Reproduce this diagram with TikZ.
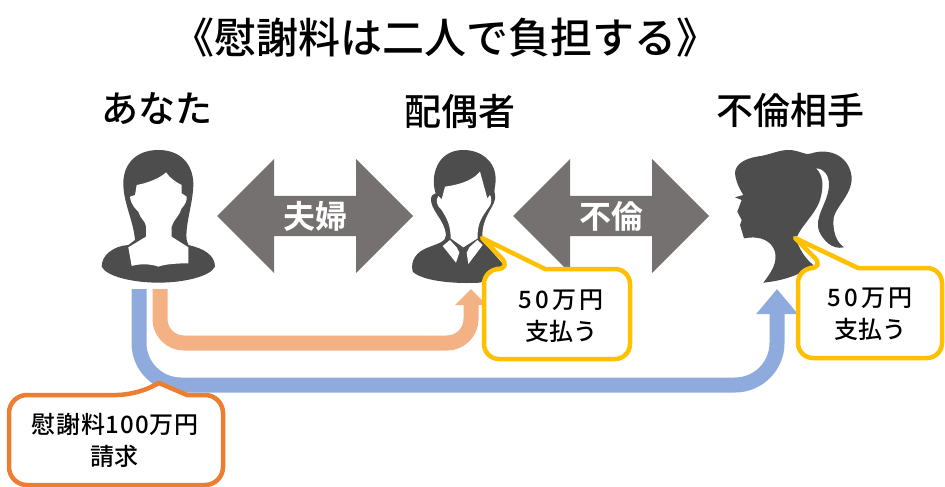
\documentclass[tikz,border=0pt]{standalone}
\usepackage{fontspec}
\usetikzlibrary{arrows.meta,shapes.arrows}
\newfontfamily\jpfont{Noto Sans CJK JP}[BoldFont={Noto Sans CJK JP Bold}]
\newfontfamily\jpmedium{Noto Sans CJK JP Medium}
\definecolor{silhouette}{HTML}{4D4D4D}
\definecolor{arrowgray}{HTML}{767171}
\definecolor{peach}{HTML}{F4B183}
\definecolor{paleblue}{HTML}{8FAADC}
\definecolor{gold}{HTML}{FFC000}
\definecolor{deeporange}{HTML}{ED7D31}
\def\tsize#1{\fontsize{#1}{#1}\selectfont}
\def\spaced#1#2{{\addfontfeature{LetterSpace=#1}#2}}
\tikzset{
  every node/.style={font=\jpfont, inner sep=0pt, anchor=center},
  titletext/.style={font=\jpmedium\tsize{42}},
  persontext/.style={font=\jpmedium\tsize{37}},
  bubbletext/.style={font=\jpmedium\tsize{24}, align=center, text=black},
  relarrow/.style={double arrow, fill=arrowgray, minimum height=196pt, minimum width=114pt,
    double arrow head extend=28pt, text=white, font=\jpfont\bfseries\tsize{32}},
  figure/.style={fill=silhouette, draw=none},
  hole/.style={fill=white, draw=none},
  paybubble/.style={draw=gold, fill=white, line width=4.5pt, line join=round},
  askbubble/.style={draw=deeporange, fill=white, line width=4.5pt, line join=round}
}
\begin{document}
\begin{tikzpicture}[x=1pt, y=-1pt]
      \useasboundingbox (0,0) rectangle (945,487);
      \node[titletext] (title) at (445, 38) {《慰謝料は二人で負担する》};
      \node[persontext] (you) at (157, 109) {あなた};
      \node[persontext] (spouse) at (460, 111) {配偶者};
      \node[persontext] (lover) at (790, 110) {不倫相手};

      % woman
      \begin{scope}[shift={(90,140)}, scale=1/3]
        \fill[figure] (205,30) .. controls (270,30) and (308,70) .. (310,130)
          .. controls (310,190) and (285,250) .. (290,300) -- (295,315)
          .. controls (340,325) and (375,345) .. (375,380)
          .. controls (360,410) and (280,428) .. (205,428)
          .. controls (130,428) and (50,410) .. (35,380)
          .. controls (35,345) and (70,318) .. (115,315) -- (135,300)
          .. controls (130,240) and (100,190) .. (100,130)
          .. controls (100,70) and (140,30) .. (205,30) -- cycle;
        \fill[hole] (228,97) .. controls (210,115) and (170,130) .. (140,135)
          -- (135,165) -- (120,170) .. controls (122,195) and (140,210) .. (145,215)
          .. controls (150,235) and (168,245) .. (168,260) -- (168,290) -- (115,322) -- (125,378)
          .. controls (150,370) and (185,372) .. (205,380)
          .. controls (225,372) and (265,370) .. (295,370) -- (295,322) -- (245,290) -- (245,260)
          .. controls (250,240) and (270,225) .. (275,205)
          .. controls (285,195) and (292,180) .. (290,170) -- (275,160) -- (275,135)
          .. controls (260,128) and (240,115) .. (228,97) -- cycle;
      \end{scope}

      % man
      \begin{scope}[shift={(400,140)}, scale=1/3]
        \fill[figure] (190,30) .. controls (240,30) and (285,60) .. (287,115)
          .. controls (288,135) and (280,150) .. (285,165)
          .. controls (292,195) and (245,225) .. (247,290) -- (250,305)
          -- (320,385) -- (240,428) .. controls (170,432) and (70,425) .. (38,395)
          .. controls (30,360) and (50,335) .. (85,322)
          .. controls (110,312) and (140,305) .. (138,285)
          .. controls (135,240) and (90,210) .. (93,175)
          .. controls (95,160) and (105,165) .. (107,160)
          .. controls (90,110) and (110,30) .. (190,30) -- cycle;
        \fill[hole] (240,95) .. controls (215,125) and (170,135) .. (135,140)
          -- (125,178) -- (115,168) .. controls (106,180) and (110,198) .. (125,210)
          .. controls (140,235) and (152,255) .. (152,295) -- (190,322) -- (233,295)
          .. controls (230,250) and (250,225) .. (264,205)
          .. controls (276,195) and (276,172) .. (270,165) -- (262,175) -- cycle;
        \fill[hole] (150,300) -- (128,318) -- (168,368) -- (178,338) -- (170,322) -- cycle;
        \fill[hole] (232,300) -- (248,315) -- (205,372) -- (200,338) -- (208,322) -- cycle;
      \end{scope}

      % profile
      \begin{scope}[shift={(720,140)}, scale=1/3]
        \fill[figure] (45,100) .. controls (45,70) and (80,55) .. (110,50)
          .. controls (150,45) and (180,28) .. (210,30)
          .. controls (240,32) and (260,48) .. (275,40)
          .. controls (320,25) and (385,40) .. (395,110)
          .. controls (398,170) and (335,205) .. (340,250)
          .. controls (342,285) and (350,305) .. (372,322)
          .. controls (335,330) and (310,300) .. (298,275)
          .. controls (280,230) and (325,190) .. (327,135)
          .. controls (328,105) and (310,85) .. (288,85)
          .. controls (310,105) and (312,140) .. (300,180)
          .. controls (285,225) and (240,260) .. (228,298)
          .. controls (240,330) and (255,355) .. (280,375)
          .. controls (240,405) and (190,422) .. (130,428)
          .. controls (155,395) and (172,370) .. (165,335)
          .. controls (155,305) and (125,285) .. (72,295)
          -- (60,255) -- (65,240) -- (52,215) -- (65,180) -- (45,172) -- (70,165)
          .. controls (55,140) and (48,125) .. (45,100) -- cycle;
      \end{scope}

      \node[relarrow] (couple) at (315, 216) {夫婦};
      \node[relarrow] (affair) at (611, 216) {不倫};

      \coordinate (peachstart) at (160, 289);
      \coordinate (peachlow) at (160, 343);
      \coordinate (peachend) at (471, 289);
      \coordinate (bluestart) at (139, 289);
      \coordinate (bluelow) at (139, 385);
      \coordinate (blueend) at (777, 289);
      \draw[peach, line width=15pt, rounded corners=24pt, -{Triangle[length=16pt,width=31pt]}]
        (peachstart) -- (peachlow) -- (peachlow -| peachend) -- (peachend);
      \draw[paleblue, line width=15pt, rounded corners=42pt, -{Triangle[length=25pt,width=40pt]}]
        (bluestart) -- (bluelow) -- (bluelow -| blueend) -- (blueend);

      \draw[paybubble] (512,269) [sharp corners] -- (482,238) -- (545,269) [rounded corners=15pt]
        -- (630,269) -- (630,359) -- (484,359) -- (484,269) -- cycle;
      \draw[paybubble] (825,268) [sharp corners] -- (795,238) -- (858,268) [rounded corners=15pt]
        -- (942,268) -- (942,358) -- (798,358) -- (798,268) -- cycle;
      \draw[askbubble] (135,395) [sharp corners] -- (159,383) -- (187,395) [rounded corners=18pt]
        -- (223,395) -- (223,485) -- (9,485) -- (9,395) -- cycle;

      \node[bubbletext] (spousepay) at (561, 316) {\spaced{14}{50万円}\\[8pt]支払う};
      \node[bubbletext] (loverpay) at (870, 314) {\spaced{14}{50万円}\\[8pt]支払う};
      \node[bubbletext] (claim) at (115, 440) {\spaced{4}{慰謝料100万円}\\[8pt]請求};
\end{tikzpicture}
\end{document}
